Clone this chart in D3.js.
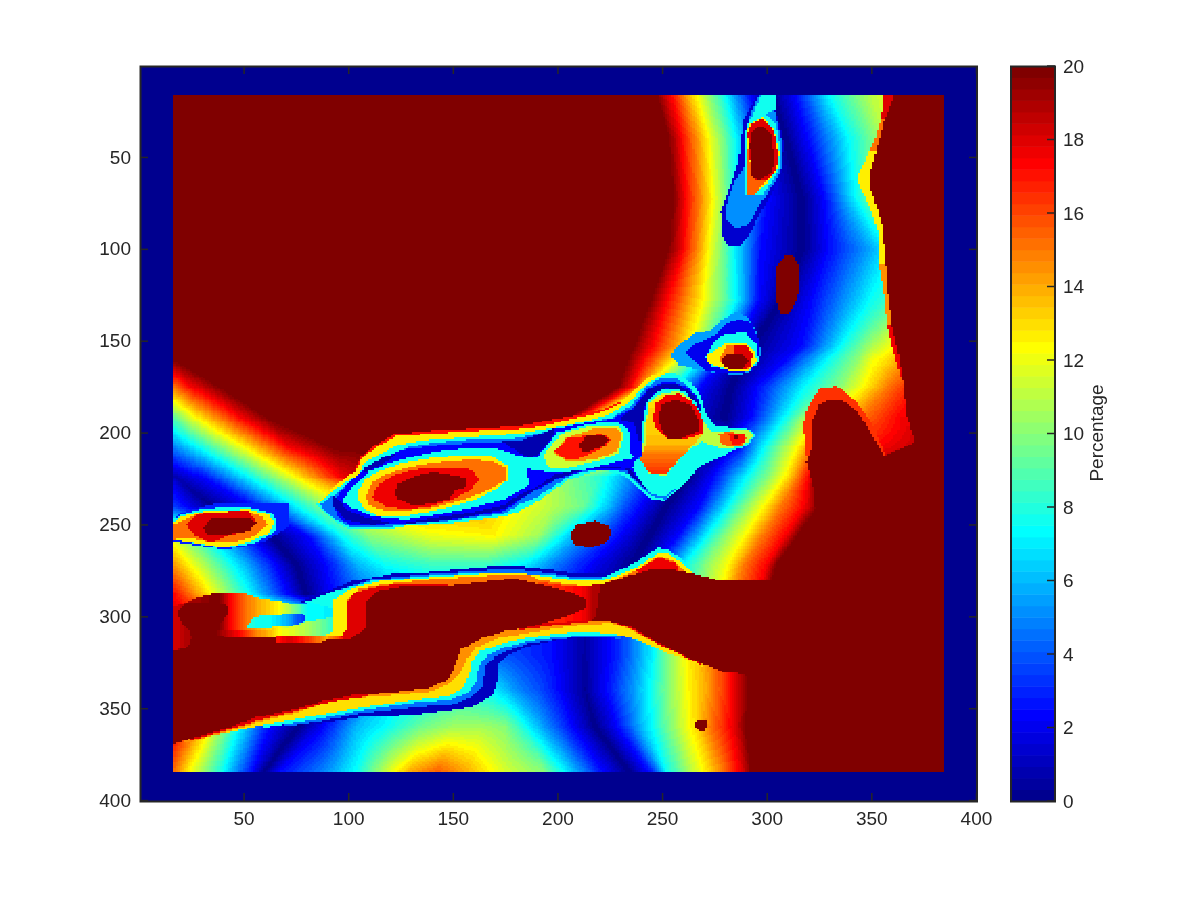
<!DOCTYPE html>
<html><head><meta charset="utf-8">
<script src="https://cdn.jsdelivr.net/npm/d3@7"></script>
<style>html,body{margin:0;padding:0;background:#fff}#c,#s{position:absolute;left:0;top:0}
text{font-family:"Liberation Sans",Arial,sans-serif;fill:#262626}</style></head>
<body><canvas id="c" width="1200" height="900"></canvas><svg id="s" width="1200" height="900"></svg>
<script>
const xTicks=[50,100,150,200,250,300,350,400];
const yTicks=[50,100,150,200,250,300,350,400];
const barTicks=[0,2,4,6,8,10,12,14,16,18,20];
const barLabel="Percentage";
// smooth background: row y -> profile pairs x,value
const fieldRows=[
[16,[16,20,17,20,18,20,19,20,20,20,247,20,254,17.5,266,12.5,280,7.5,292,2.5,303,0,314,2.5,330,7.5,344,10,350,11,360,12,370,13]],
[40,[16,20,17,20,18,20,19,20,20,20,253,20,259,17.5,272,12.5,285,7.5,297,2.5,309,0,320,2.5,340,7.5,352,10,356,11,362,12,370,13]],
[73,[16,20,17,20,18,20,19,20,20,20,255,20,261,17.5,274,12.5,285,7.5,300,2.5,317,0,328,2.5,343,7.5,352,10,356,11,362,12,370,13]],
[100,[16,20,17,20,18,20,19,20,20,20,253,20,260,17.5,272,12.5,284,7.5,297,2.5,317,0,330,2.5,352,6,356,7,362,8,366,9,372,10]],
[128,[16,20,17,20,18,20,19,20,20,20,244,20,252,17.5,269,12.5,285,7.5,296,2.5,307,0,322,2.5,350,7.5,358,8.5,362,9,366,10,372,11]],
[153,[16,20,17,20,18,20,19,20,20,20,236,20,245,17.5,263,12.5,276,7.5,285,2.5,292,0,317,2.5,336,7.5,347,10,352,11,358,12,370,13]],
[160,[16,20,17,20,18,20,19,20,20,20,233,20,241,17.5,256,12.5,269,7.5,279,2.5,289,0,310,2.5,330,7.5,343,10,350,12,358,13,370,15]],
[175,[16,15,25,17.5,39,20,39.5,20,40,20,229,20,235,17.5,243,12.5,255,7.5,268,2.5,283,0,296,2.5,319,7.5,335,10,347,12.5,358,15,370,17]],
[192,[16,9,28,12.5,49,17.5,62,20,64,20,205,20,210,17.5,218,12.5,232,7.5,258,2.5,280,0,293,2.5,309,7.5,316,10,330,12.5,345,15,364,17.5]],
[208,[16,4.7,29,7.5,51,12.5,72,17.5,93,20,215,20,222,17,232,12.5,258,2.5,272,0,287,2.5,299,7.5,307,10,315,12.5,322,15,345,17,372,18.5]],
[224,[16,1.5,17,0.8,31,2.5,53,7.5,75,12.5,96,17.5,119,20,197,11,221,8,240,4,263,0,275,2.5,291,7.5,301,10,309,12.5,315,15,320,17.5,323,20,384,20]],
[240,[16,3.5,35,0,55,2.5,76,7.5,101,12.5,125,14,160,14,197,11,212,9.5,234,3.5,252,0,268,2.5,282,7.5,290,10,299,12.5,307,15,318,17.5,325,20,384,20]],
[256,[16,11.5,63,0,81,2.5,97,7.5,110,10,140,12,170,12.5,191,10.5,205,6.5,229,2.5,244,0,258,2.5,272,7.5,280,10,290,12.5,298,15,309,17.5,315,20,384,20]],
[272,[16,14.5,75,0,90,2.5,105,6,118,7.5,140,8.5,165,8.5,185,7,200,4.5,218,2,236,0,247,2.5,261,7.5,271,10,282,12.5,289,15,300,17.5,305,20,384,20]],
[288,[16,17.5,80,0,90,2,105,4,118,5,140,6,165,6,185,4,200,3,218,1,232,0,244,2.5,258,7.5,268,10,278,12.5,285,15,296,17.5,301,20,384,20]],
[300,[16,18,30,19,44,18,52,15,62,13,76,11,86,8,93,7.5,100,12,140,8,181,4,197,2.5,213,0.5,229,3,245,7,253,10,262,12.5,272,14.5,284,17.5,292,20,384,20]],
[320,[16,20,60,10,100,6,140,5,181,3.5,197,2.5,213,0.5,229,3,245,7,253,10,262,12.5,272,14.5,284,17.5,292,20,384,20]],
[340,[16,20,24,20,40,16,62,8,88,0,96,2,104,4,119,6,135,8,151,8,160,8,170,7,176,6,181,5,190,4,197,3,213,0.3,226,3,239,6,255,10.5,263,12.5,271,14,284,17.5,292,20]],
[360,[16,18,24,16,40,10,62,2.5,76,0,84,1.5,89,2.5,104,6,119,7.5,135,9.5,150,10.5,165,10.5,175,10,185,7.5,193,5.5,202,3.5,218,0,229,2.5,242,6.5,258,11,266,13,273,15,285,18,290,20]],
[384,[16,15.5,24,12.5,40,7.5,54,2.5,60,0,68,2.5,89,5,104,7.5,119,11.5,130,14,143,15.5,156,14,175,11.5,193,10,202,7.5,221,2.5,234,0,245,3,252,7.5,264,11,272,13,279,15,287,17.5,293,20]]
];
// lower ribbon edges (outermost first)
const ribbonB1=[[85,358.5],[105,355],[132,353.6],[159,349.5],[169,343],[171,336],[172,326],[177,320.5],[186,316.5],[200,313],[212,311.5]];
const ribbonB2=[[70,360],[85,357.5],[105,353],[132,349.5],[150,348],[159,344],[164,339],[166,327],[170,322],[177,318.5],[186,315],[200,312.5],[215,311],[225,311.5],[230,312.5]];
const ribbonB3=[[60,360.5],[85,356],[105,351.5],[132,347],[148,345.5],[157,342],[161,336],[162.5,327],[167,321],[175,317],[186,313.5],[200,311.5],[221,310],[233,311],[240,314]];
const ribbonB4=[[40,364],[60,359],[80,355],[105,350],[132,345.5],[148,343.5],[155,339],[158,331],[159,325],[163,319],[172,315.5],[182,312.5],[197,310],[213,308],[229,310],[237,312.5],[245,316],[253,320],[261,323],[271,328]];
const ribbonB5=[[22,369],[43,362.5],[56,358],[75,352.5],[88,347.5],[102,344.5],[121,343],[139,341],[147,337.5],[154,330],[157,323],[161,317],[172,312],[182,310],[197.5,306.7],[215,304.3],[226,303.8],[234,306.5],[245,313.4],[261,322],[267.5,325.5]];
const ribbonB6=[[182,307.4],[197.5,305],[215,303],[226,303],[236,307],[248,315],[261,322],[267,325.5],[270,327]];
const ribbonB6left=[[25,367.5],[43,361.5],[56,357],[75,351.5],[92,346.5],[110,343.5],[110,335],[25,355]];
const ribbonClose=[[236,298],[180,295]];
// upper ribbon
const upperU1=[[76,292.5],[88,287],[102,281],[121,277],[139,276],[167,273],[185,273],[200,275.3],[210,277],[220,277],[228,275.3],[237,271],[243,269],[245,275],[200,295],[100,295]];
const upperU2=[[90,287.5],[111,280],[139,277],[167,275],[185,275],[200,277],[210,279],[220,279],[228,277],[237,272.6],[247,266],[250,263],[252,270],[200,295],[100,295]];
const upperW=[[21.5,292.9],[30.2,289],[35,287.8],[51,287.8],[58,290.2],[69,292],[74,293.8],[80.4,293],[90,287.5],[94,287],[94,303],[87,310],[65,311.5],[38,311],[16,319],[16,295]];
const upperWProfile=[[16,18],[24,19],[38,20],[43.7,17.5],[51.7,15],[59.7,13.5],[66,12.5],[72.4,10.5],[80.4,7.5],[94,7]];
const lowerW=[[37,307.5],[60,307.5],[72,306],[80,303],[94,300],[94,311],[87,311.5],[38,311.5]];
const lowerWProfile=[[37,20],[40,19],[47,17.5],[55,15],[63,13.5],[66,12.5],[79,11],[87,9.5],[94,8]];
const upperU3=[[80,292],[94,286],[111,281],[139,278],[167,276],[200,278],[212,280],[222,279],[229,275.5],[239,269.5],[248,262.7],[253,263.6],[259.6,269],[262,274],[262,285],[110,296],[94,296]];
const upperU4=[[93,291],[102,284.5],[115,281],[139,279],[167,276.6],[183,276.6],[200,279.5],[205,280],[215,281],[223,280],[229,278],[237,274],[248.5,265.4],[253,265.4],[261,272.6],[265,277],[258,295],[108,300],[100,312],[86.7,311.5],[90,310],[93,307.4],[93,298]];
const upperU5=[[100,291],[105,285],[116,282.6],[139,280],[167,278],[188,278],[191,280],[202,282],[213,283.5],[220,283],[232,278],[237,275.5],[248.5,267],[256,270],[262,276],[250,295],[108,300],[100,300]];
const upperU6=[[100,291.6],[103.5,287],[111,284.4],[120,283],[150,282],[110,300],[108,307],[103,311],[98,314],[96,312],[100,306]];
const lowRedBand=[[66,311],[88,311],[96,310],[98,313],[90,315],[66,315]];
const lowRedProfile=[[66,17],[72,18],[78,17],[84,15.5],[90,14],[98,17]];
const humpRed=[[237.3,275.4],[248.5,268],[256.4,271],[258,276],[250,285]];
const neckRed=[[190,281],[207,284],[220,282.6],[222,283],[219,300],[215,303],[205,303],[196,304]];
const neckProfile=[[190,16],[205,17],[212,17.5],[218,19]];
const pocket=[[51.4,304.7],[54.9,301],[59.7,299.3],[64.4,299.6],[72.4,298.3],[78,298.3],[79.6,301],[78.8,302.9],[72.4,305.6],[65.2,305.6],[59.7,306.9],[51.7,306.9]];
const pocketProfile=[[51,8],[62,7.5],[70,6],[76,4],[80,3]];
// right side
const edgeBand1=[[356,17],[354.5,30],[370,30],[370,17]];
const edgeBand2=[[354.5,30],[352,40],[349,47],[370,47],[370,30]];
const edgeBand3=[[349,47],[347.3,52],[344,58.5],[344,64.8],[349,76.6],[353,89.3],[353.6,109],[370,109],[370,47]];
const edgeBand4=[[353.6,109],[356,124],[357.6,142],[370,142],[370,109]];
const edgeBand5=[[357.6,142],[361.5,160],[364.7,172],[380,172],[380,142]];
const domeRing=[[317.7,196.6],[318.5,189.3],[322.5,180.3],[325.7,175.7],[333.7,174.8],[340.8,181],[345.6,187.5],[350.4,194.8],[356.8,213],[330,215],[319.3,216.5]];
const darkRight=[[361,10],[392,10],[392,392],[292,392],[292,384],[290,332],[300,285],[304,282],[325,246],[323,240],[322,229],[319,216],[322,206],[322,193],[325,185],[331,182],[337,183],[342,187],[349,198],[356,213],[371,205],[367,191],[365,171],[363,157],[360,142],[358,124],[357,109],[355,86],[350,68],[350,57],[356,31],[361,17]];
const darkStrip=[[10,320],[15.9,319.8],[19.9,318],[23.8,316.5],[25.4,311],[23.8,307.4],[20.7,303.8],[19,300],[19,296.5],[23,292.5],[30.2,292],[38.2,292.9],[43,294.7],[43,298.3],[38.2,304.7],[37.4,310],[42,311.4],[66,311.4],[66,314.7],[86.7,314.7],[90,312.9],[96.3,312],[100,313],[108,307],[109,292],[115,286],[127,283.5],[151,283],[175,280],[182,280],[198,284],[207,287],[214,291],[213,296],[205,300],[196,303],[186,306],[175,308],[164,312],[154,318],[151,327],[148,334],[139,339],[121,341.5],[102,343],[88,346],[75,350.5],[56,355],[43,360.5],[30,365],[16,369.5],[10,371]];
const darkCentre=[[220.6,282.6],[234,278],[244,275],[256.5,275],[262,276],[275.5,280],[303,281],[300,300],[290,331.5],[279,330],[267.5,325],[261,321.5],[245,312.5],[236,306],[226,303],[215,303],[218.5,300]];
// left island
const leftOuter=[[10,247],[16,247],[20,243.6],[28.7,241],[36,238.7],[72,238.7],[72,250.3],[68.5,253.6],[60.5,259],[51,262],[41.4,263.5],[28.7,261.7],[20,260],[10,259.6]];
const leftCyan=[[10,247.3],[16,247.3],[20.7,244.5],[28.7,241.8],[36.6,241],[54,241],[63.7,244],[66,249],[65.3,253.6],[55.7,260],[47.8,261.8],[39.8,262.7],[28.7,260.8],[20.7,259],[10,258.1]];
const leftYellow=[[10,249],[16,249],[20.7,245.4],[30.3,243],[52.5,241.8],[62,244.5],[65,249],[61.3,255.4],[51,260],[40,262.8],[28.7,260.5],[20.7,259],[10,258.5]];
const leftOrange=[[10,250],[16,250],[21.5,247.3],[28.7,244],[51,242.7],[59,245.4],[61.3,250],[55.7,256.3],[46.2,259.6],[35,260],[23.9,257.2],[10,259]];
const leftRed=[[22.3,250],[27.9,244.5],[33.4,243.3],[52.5,242.7],[56.5,249],[52.5,253.6],[41.4,256.3],[35,260],[27,256.3]];
const leftDark=[[30.3,251.8],[35,246.9],[53.3,246.9],[56.5,249],[52.5,253.6],[38.2,256],[32.6,255.4]];
// central islands
const midTopRed=[[103.5,219],[106,213],[113,207],[122,201],[140,199],[181,196.5],[205,191.5],[222,187.5],[230,183],[234,184],[230,190],[200,200],[120,210],[105,225]];
const midYellow=[[84.4,239],[95.5,227.3],[103.5,221],[106,214.6],[113,208.3],[122.6,202],[140,200.5],[159,199.2],[181.5,198],[192.7,196.6],[205.5,193],[220,189.3],[229.4,184.8],[237.3,175.7],[245.3,168.5],[251.7,166.7],[256.4,167.6],[264.4,173],[268.4,180.3],[270.8,189.3],[275.5,196.6],[290,197.5],[294.7,201],[291.5,206.5],[283.5,210],[275.5,214.7],[267.6,218.3],[262.8,225.6],[251.7,237.3],[245.3,236.4],[237.3,229.2],[232.6,223.7],[221.4,220],[205.5,225.6],[189.6,238.2],[181.6,242.8],[175,245.4],[151,249],[127.4,250.9],[119.4,252.7],[100.3,252.7],[92.4,247.3]];
const midCyan=[[85,239],[97,228.2],[105,222.8],[107.5,216.5],[114.6,212],[124.2,206.5],[140,203.8],[159,202.3],[181.6,200.5],[197.5,197.5],[213.4,193.9],[224.6,190.2],[234,183.9],[240.5,175.7],[247,170.3],[252.5,167.6],[256.4,167.6],[264.4,173],[268.4,180.3],[270.8,189.3],[275.5,196.6],[290,197.5],[294.7,201],[291.5,206.5],[283.5,210],[275.5,214.7],[267.6,218.3],[262.8,225.6],[251.7,237.3],[245.3,236.4],[237.3,229.2],[232.6,223.7],[221.4,220],[205.5,225.6],[189.6,238.2],[181.6,242.8],[175,245.4],[151,249],[127.4,250.9],[119.4,252.7],[100.3,252.7],[92.4,247.3]];
const midLight=[[86.8,239],[98,230],[106.7,223.7],[110,218.3],[117,213.7],[127.4,208.3],[140,205.6],[159,203.8],[181.5,202.9],[197.5,198.7],[213.4,195],[226.2,192],[235.7,184.8],[242,175.7],[248.5,170.8],[256.4,170.3],[262.8,174.8],[266.8,182],[268.9,191],[267.6,216.5],[251.7,236.4],[245.3,234.6],[238,227.4],[233.4,222.3],[221.4,218.7],[205.5,223.7],[189.6,235.5],[181.6,239.1],[175,244],[151,247.6],[127.4,250],[119.4,251.4],[101,251.4],[94,247],[88.4,241.8]];
const midBlue=[[93,237.3],[98.7,229],[108,219],[116,213.7],[127.4,209],[143,207],[159,205.6],[180,205],[186.4,204.7],[199,198],[213,194.8],[226,192.6],[235.7,187],[243.7,175.7],[250,173],[256.4,173],[262.8,175.7],[267.6,182],[269,189.3],[268.4,190],[237.3,214.7],[245.3,231],[237.3,224.7],[232.6,220.5],[213.4,220.5],[200.7,225],[191,230.6],[181.6,236.8],[175,242.7],[151,247.3],[127.4,249.4],[102,250.9],[95.5,246.4],[93,240]];
const darkPocket=[[174,205],[181.6,204.7],[191,201],[199,197.5],[197.5,203],[189.6,212.9],[186.4,213.2],[181.6,211],[178,208]];
const darkCrescent=[[92.4,234.6],[93,240],[98.7,247.3],[111.5,250.3],[119.4,249],[108.3,246.3],[98.7,241.8],[95.5,236.4]];
const darkTopLeft=[[108,219],[116,214],[124,211],[118,216],[108,222]];
const darkChannel=[[229.4,192.6],[236.5,186.6],[244.5,175.7],[252.5,173],[258,174],[264.4,178.5],[267.6,183.9],[268.4,189.3],[266,183.9],[261,177.5],[251.7,175.7],[246,178.5],[241.3,186.6],[240.5,203.8],[239,204.7],[236.5,194.8]];
const darkLower=[[181.6,236.4],[191,230],[200.7,224.6],[213.4,220],[232.6,220],[235.7,224.6],[242,230],[245.3,231],[244.5,228.3],[237.3,223.7],[234,219.2],[216.6,218.3],[199,222.8],[188,231],[181.6,233.7]];
const darkLowerLeft=[[181.6,236.4],[175,241.5],[159,245.5],[140,248.5],[125,249.5],[140,246.5],[159,243.5],[175,239.5],[181.6,233.7]];
const bigRing=[[97,237.3],[102,230],[110,221],[119.4,216.5],[132,212.8],[148,209.2],[169,208.3],[180,212],[185.5,213.7],[190.4,213],[200,200],[213.4,195.7],[227.8,193.9],[232.6,196.6],[235,201],[235,211],[236.5,213.8],[229.4,215.6],[213.4,220],[199,222],[188,220],[186,220],[185.5,222.8],[187,228],[175,236.4],[159,241],[143,244.5],[127.4,247.3],[111.5,245.5],[102,241]];
const bigYellow=[[105,231],[108.3,225.5],[114.6,221],[125.8,216.5],[140,213.7],[159,212],[169,213],[176.8,218.3],[176.8,225.5],[169,231.9],[159,237.3],[143.3,241.8],[127.4,245.4],[114.6,245.4],[108.3,241.8],[105,237.3]];
const bigOrange=[[108.3,234.6],[111.5,227.3],[116.2,223.7],[127.4,219.2],[140,216.5],[159,214.6],[169,215.6],[176,219.2],[176,225.5],[167.2,231],[156,236.4],[140,240.9],[124.2,242.7],[114.6,241.8],[110,239.1]];
const bigRed=[[111.8,234.6],[114.6,228.2],[122.6,222.8],[132,220.1],[143.3,219.2],[159,220.1],[162.4,225.5],[157.6,231.9],[149.7,236.4],[140,240],[127.4,241.8],[117.8,240],[113,237.3]];
const bigDark=[[122,232.8],[124,228],[132,223.7],[140,221.5],[148,222.8],[157,224.6],[157,229.1],[151,231.9],[148,236.4],[140,238.6],[130.6,239.6],[124,236.4]];
const wasteYellow=[[193.5,212],[202.3,200.2],[216.6,196.2],[229.4,196.6],[231.8,201],[229.4,211],[221.4,214.7],[205.5,219],[197.5,219.8],[194.3,216.5]];
const wasteOrange=[[198.3,211],[204,202.9],[218.2,197.5],[227.8,197],[231,201],[228.6,210],[218.2,214.7],[204,215.6]];
const wasteRed=[[199,210],[204.7,202.9],[221.4,200.6],[225.4,203.8],[223,207.4],[215,212],[209.5,214.7],[202.3,213.8]];
const wasteDark=[[210.3,206.5],[213.4,202],[220.6,201],[224.6,203.8],[222.2,207],[215.8,210],[212,211]];
const centreCyan=[[240.5,213.8],[240.8,194.8],[243,182],[248.5,177],[258,175.7],[264.4,180],[269,190.2],[273,196.6],[275.5,199.6],[281,198.7],[290,197.5],[294.7,201],[291.5,206.5],[283.5,210],[275.5,214.3],[267.6,218],[262.8,225.2],[251.7,234.6],[245.3,233.7],[239,225.6],[235.7,219.2],[237.3,214.7]];
const centreGreen=[[240.5,211],[242,194.8],[244.5,183],[249.3,178.8],[258,177.5],[263.6,181],[268.4,192],[273,198.4],[275.5,200],[283.5,198.9],[291.5,198.4],[293.9,201.5],[290.7,205.6],[283.5,208.3],[277,208],[268.4,204.7],[258,214.7],[251.7,223.7],[243.7,222],[240.5,214.7]];
const centreWarm=[[243,193],[243.7,184],[250,180],[258,178.8],[264.4,183.9],[268.8,194.8],[270,200],[264.4,207.4],[256.4,216.5],[251.7,222.8],[244.5,222.8],[239.7,214.7],[242,207.4]];
const centreWarmProfile=[[180,13],[205,13.5],[212,15],[222,16.5]];
const centreRed=[[245.3,193],[247,184],[251.7,180],[258,178.8],[264.4,183],[268.8,191],[270,200],[261,203.8],[251.7,202],[247,197.5]];
const centreDark=[[248.2,191],[250,184.8],[256.4,182],[263.6,184.8],[267.3,193],[267,199.3],[258,203.8],[253.3,203.5],[249.3,197.5]];
const tipOrange=[[277,201],[280.3,199.8],[288.3,200.2],[290.2,202.9],[288.3,207],[282,207.8],[278,205.6]];
const tipRed=[[282,201],[290,201],[290,205.6],[283.5,206.5]];
const tipDark=[[284.5,202],[287,202],[287,203.5],[284.5,203.5]];
// island near (285,160)
const capOuter=[[257.3,152.7],[266,146],[273,144.5],[278,139],[285,134.6],[290,136.4],[294.7,143.6],[297.8,156.7],[296.2,161.2],[293,166.7],[286.7,168.5],[277,167.6],[267.6,165.8],[258,163],[254,158.5]];
const capBlue=[[261.2,156.7],[265.2,152.2],[275.5,146.8],[280.3,140.8],[286.7,138.6],[293,140.4],[296.2,149.5],[297,158.5],[293,166.7],[283.5,167.6],[270.8,166.7],[267.6,163]];
const capCyan=[[270.8,159.4],[275.5,149.5],[280.3,146.2],[289.9,145.8],[295.4,152.2],[296.2,161.2],[291.5,166.7],[280.3,165.8],[274,164]];
const capYellow=[[271,158.5],[277,154],[280.3,151.6],[289.9,151.6],[293.9,154.9],[295.4,161.2],[291.5,166],[283.5,166.7],[277,164],[272.4,162.2]];
const capOrange=[[277,160.3],[281,153],[289.9,152.2],[293,156.7],[291.5,165.8],[281.9,165.8]];
const capRed=[[285,152.7],[290,152.7],[293.4,156.7],[292.3,164],[288.3,165.8],[283.5,165.8]];
const capDark=[[278,161.2],[280.3,157.6],[288.3,157],[291.2,161.2],[288.3,165.4],[280.3,164.9]];
// top oval
const ovalOuter=[[299.5,10],[291.5,24],[288.4,31.3],[287.6,44],[286,54.8],[282,67.5],[278,80],[278.5,92.9],[281.2,98.3],[286.8,98.7],[291.5,92.9],[296.3,82],[302.7,69.3],[307.5,56.7],[308.3,41.3],[305,27.7],[303.8,10]];
const ovalLight=[[290,36.7],[289.6,54.8],[284.4,63.9],[280,78.4],[280.4,83.8],[285.2,88.9],[291.5,86.5],[296.3,76.6],[304.3,63],[307.8,54.8],[307.5,42],[304.3,27.7],[302,10],[299.5,10],[292.3,25.9]];
const ovalSliver=[[299.5,10],[303.8,10],[304.3,24],[300.3,26],[293,28.6]];
const ovalCyan=[[289.6,36.7],[291.5,29.5],[298,25.9],[304.3,31.3],[306.7,45.8],[306.7,54.8],[302.7,63],[298,70.2],[294,71],[290,70.2]];
const ovalYellow=[[290.3,40.4],[291.2,32.2],[298,28.6],[303.5,35],[306.2,47.6],[305,56.7],[301,63],[294,70.8],[290.3,70.2]];
const ovalOrange=[[290.3,40.4],[292.3,54.8],[294.7,63],[300.3,62.1],[294,70.8],[290.3,70.2]];
const ovalRed=[[290.8,36.7],[292.3,32.2],[298,29],[303.5,35.8],[305.9,51],[304.3,57.6],[300.3,62.1],[294.7,63],[292.3,54.8]];
const ovalDark=[[291.9,44],[292.3,36.7],[297,33],[302,37.6],[304,53],[302,58.5],[296.3,63],[293,60.3]];
const spotA=[[304,118.3],[305,109.2],[309,104],[313,104],[316,111],[316,121],[313.8,129],[310.7,135.5],[306.7,135.5],[304.8,129]];
const spotB=[[206.3,254.5],[209.5,250],[218.2,247.8],[224.6,251],[225.9,255.5],[223,260],[216.6,262.3],[209.5,261.8],[206.3,258]];
const spotC=[[265,358.7],[266.8,356.5],[270.8,356.5],[271.9,358.7],[270,362.8],[267.6,362.8]];

const closeB=a=>{const s=a[0];return a.concat(ribbonClose,[[s[0],s[1]-12]]);};
// paint order, first is lowest
const layers=[
 [1,upperU1],[4.5,upperU2],
 [1,closeB(ribbonB1)],[4.5,closeB(ribbonB2)],[7.5,closeB(ribbonB3)],[13,closeB(ribbonB4)],[14.5,closeB(ribbonB5)],[18,closeB(ribbonB6)],[18,ribbonB6left],
 [upperWProfile,upperW,"x"],[lowerWProfile,lowerW,"x"],[7.5,upperU3],[12.5,upperU4],[15,upperU5],[18,upperU6],[lowRedProfile,lowRedBand,"x"],[17.5,humpRed],[neckProfile,neckRed,"x"],
 [pocketProfile,pocket,"x"],
 [18,edgeBand1],[15,edgeBand2],[12.5,edgeBand3],[14.5,edgeBand4],[17.5,edgeBand5],[16.5,domeRing],
 [20,darkRight],[20,darkStrip],[20,darkCentre],
 [3,leftOuter],[7.5,leftCyan],[12.5,leftYellow],[15,leftOrange],[18,leftRed],[20,leftDark],
 [17,midTopRed],[12.5,midYellow],[7.5,midCyan],[4.5,midLight],[2.2,midBlue],[0.7,darkPocket],[0.7,darkCrescent],[0.7,darkTopLeft],[0.7,darkLower],[0.7,darkLowerLeft],
 [7.5,bigRing],[12.5,bigYellow],[15,bigOrange],[17.5,bigRed],[20,bigDark],
 [11.5,wasteYellow],[14.5,wasteOrange],[17,wasteRed],[20,wasteDark],
 [7.5,centreCyan],[0.7,darkChannel],[11,centreGreen],[centreWarmProfile,centreWarm,"y"],[17.5,centreRed],[20,centreDark],[15.5,tipOrange],[17,tipRed],[20,tipDark],
 [5.5,capOuter],[2,capBlue],[7.5,capCyan],[12.5,capYellow],[15,capOrange],[18,capRed],[20,capDark],
 [1.5,ovalOuter],[5,ovalLight],[7.5,ovalSliver],[7.5,ovalCyan],[12.5,ovalYellow],[15.5,ovalOrange],[18,ovalRed],[20,ovalDark],
 [20,spotA],[20,spotB],[20,spotC]
];

// ---------- SCALES ----------
const x=d3.scaleLinear().domain([0.5,400.5]).range([140,977]);
const y=d3.scaleLinear().domain([0.5,400.5]).range([66,801]);
const barY=d3.scaleLinear().domain([0,20]).range([801,66]);
const clamp=v=>Math.max(0,Math.min(1,v));
const jet=d3.range(64).map(i=>{const t=(i+1)/64;
 return d3.rgb(255*clamp(Math.min(4*t-1.5,-4*t+4.5)),255*clamp(Math.min(4*t-0.5,-4*t+3.5)),255*clamp(Math.min(4*t+0.5,-4*t+2.5))).formatRgb();});
const colour=v=>jet[Math.max(0,Math.min(63,Math.floor(v/20*64)))];

// ---------- FIELD ----------
const pairs=a=>{const o=[];for(let i=0;i<a.length;i+=2)o.push([a[i],a[i+1]]);return o;};
function evalProfile(k,q){
 if(q<=k[0][0])return k[0][1];
 for(let i=1;i<k.length;i++) if(q<=k[i][0]){const[a,b]=k[i-1],[c,d]=k[i];return c===a?d:b+(d-b)*(q-a)/(c-a);}
 return k[k.length-1][1];
}
const rowsK=fieldRows.map(r=>({y:r[0],k:pairs(r[1])}));
function rowProfile(r){
 let i=rowsK.findIndex(o=>o.y>=r); if(i<=0)return{a:rowsK[0].k};
 const A=rowsK[i-1],B=rowsK[i],t=(r-A.y)/(B.y-A.y);
 if(A.k.length===B.k.length) return {a:A.k.map((p,j)=>[p[0]+(B.k[j][0]-p[0])*t,p[1]+(B.k[j][1]-p[1])*t])};
 return {a:A.k,b:B.k,t};
}
const prepared=layers.map(l=>{
 const p=l[1],xs=p.map(d=>d[0]),ys=p.map(d=>d[1]);
 return{v:l[0],poly:p,axis:l[2],x0:d3.min(xs),x1:d3.max(xs),y0:d3.min(ys),y1:d3.max(ys)};
});
const ctx=document.getElementById("c").getContext("2d");
ctx.fillStyle="#fff";ctx.fillRect(0,0,1200,900);
ctx.fillStyle=jet[0];ctx.fillRect(x(0.5),y(0.5),x(400.5)-x(0.5),y(400.5)-y(0.5));
for(let r=17;r<=384;r++){
 const prof=rowProfile(r);
 const active=prepared.filter(l=>r>=l.y0&&r<=l.y1);
 const py0=Math.round(y(r-0.5)),py1=Math.round(y(r+0.5));
 for(let c=17;c<=384;c++){
  let v=prof.b?evalProfile(prof.a,c)*(1-prof.t)+evalProfile(prof.b,c)*prof.t:evalProfile(prof.a,c);
  for(let j=active.length-1;j>=0;j--){
   const l=active[j];
   if(c<l.x0||c>l.x1)continue;
   if(d3.polygonContains(l.poly,[c,r])){
     v=l.axis?evalProfile(l.v,l.axis==="x"?c:r):l.v; break;
   }
  }
  const px0=Math.round(x(c-0.5)),px1=Math.round(x(c+0.5));
  ctx.fillStyle=colour(v);
  ctx.fillRect(px0,py0,px1-px0,py1-py0);
 }
}

// ---------- AXES ----------
const svg=d3.select("#s");
const ink="#262626";
function styleAxis(g){g.select(".domain").remove();g.selectAll("line").attr("stroke",ink).attr("stroke-width",1.5);g.selectAll("text").attr("fill",ink).style("font-size","19px");}
svg.append("g").attr("transform","translate(0,801)").call(d3.axisBottom(x).tickValues(xTicks).tickSize(-8).tickPadding(10.5)).call(styleAxis);
svg.append("g").attr("transform","translate(0,66)").call(d3.axisTop(x).tickValues(xTicks).tickSize(-8).tickFormat("")).call(styleAxis);
svg.append("g").attr("transform","translate(140,0)").call(d3.axisLeft(y).tickValues(yTicks).tickSize(-8).tickPadding(9)).call(styleAxis);
svg.append("g").attr("transform","translate(977,0)").call(d3.axisRight(y).tickValues(yTicks).tickSize(-8).tickFormat("")).call(styleAxis);
svg.append("rect").attr("x",140.5).attr("y",66.5).attr("width",836.5).attr("height",735).attr("fill","none").attr("stroke",ink).attr("stroke-width",2);

// colourbar
const bar=svg.append("g");
bar.selectAll("rect").data(d3.range(64)).join("rect")
 .attr("x",1011).attr("width",44)
 .attr("y",i=>barY((i+1)/64*20)).attr("height",735/64+0.5).attr("fill",i=>jet[i]);
bar.append("rect").attr("x",1011).attr("y",66.5).attr("width",44).attr("height",735).attr("fill","none").attr("stroke",ink).attr("stroke-width",2);
svg.append("g").attr("transform","translate(1055,0)").call(d3.axisRight(barY).tickValues(barTicks).tickSize(0).tickPadding(8)).call(styleAxis);
svg.selectAll("line.bt").data(barTicks).join("line").attr("class","bt").attr("x1",1047).attr("x2",1055).attr("y1",d=>barY(d)).attr("y2",d=>barY(d)).attr("stroke",ink).attr("stroke-width",1.5);
svg.append("text").attr("transform","translate(1103,433) rotate(-90)").attr("text-anchor","middle").style("font-size","19px").text(barLabel);
</script></body></html>
